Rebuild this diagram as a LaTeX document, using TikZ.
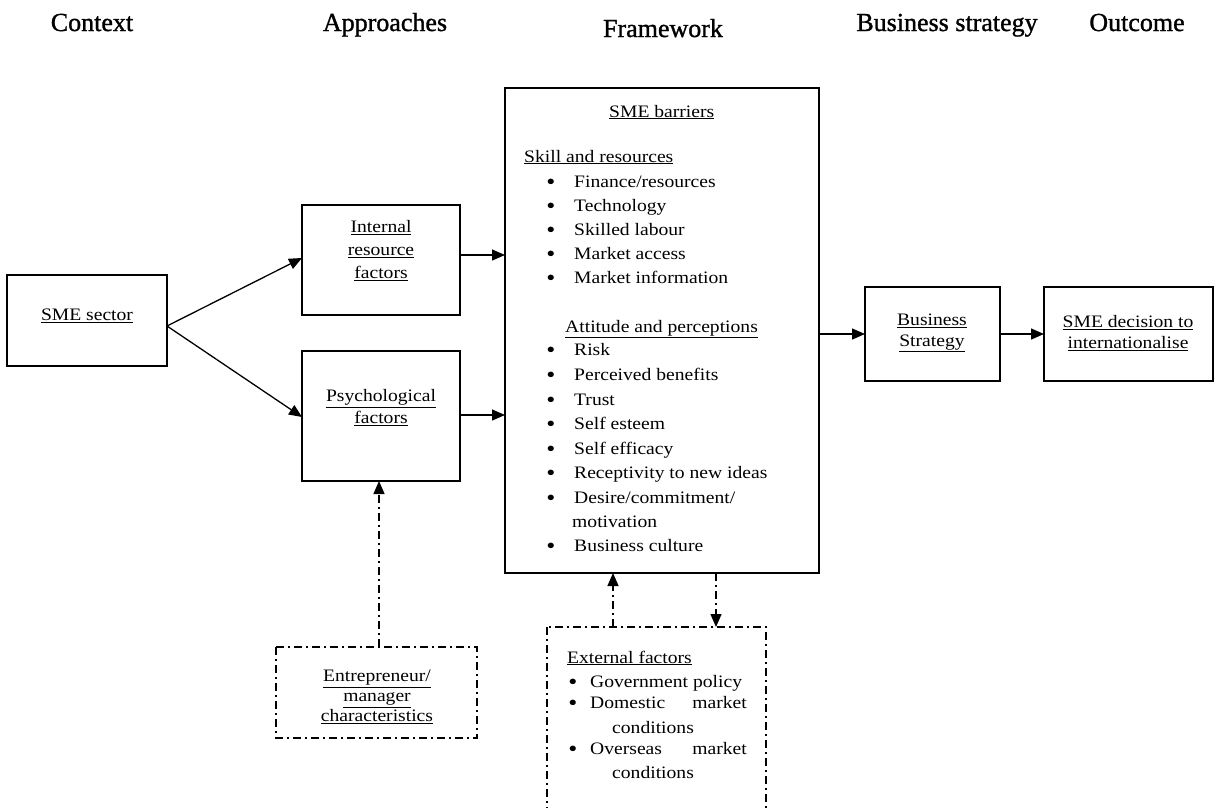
\documentclass[tikz,border=0pt]{standalone}
\usepackage{fontspec}
\setmainfont{Liberation Serif}[FakeStretch=1.12]
\newfontfamily\headfont{Liberation Serif}[FakeBold=1.2]
\usetikzlibrary{arrows.meta}
\begin{document}
\begin{tikzpicture}[x=1pt,y=-1pt,
  box/.style={draw,line width=1.6pt},
  dbox/.style={draw,line width=1.3pt,dash pattern=on 8pt off 4pt on 2pt off 4pt},
  arr/.style={line width=1.3pt,-{Triangle[length=13pt,width=11pt]}},
  darr/.style={line width=1.3pt,dash pattern=on 8pt off 4pt on 2pt off 4pt,-{Triangle[length=13pt,width=11pt]}},
  txt/.style={font=\fontsize{17.5}{22}\selectfont,align=center,inner sep=0pt},
  lt/.style={font=\fontsize{17.5}{22}\selectfont,anchor=base west,inner sep=0pt},
  bul/.style={font=\fontsize{23}{23}\selectfont,anchor=base,inner sep=0pt},
  hd/.style={font=\headfont\fontsize{26}{30}\selectfont,anchor=base,inner sep=0pt}]
\useasboundingbox (0,0) rectangle (1231,807);
\clip (0,0) rectangle (1231,807);
% headers
\node[hd] (h1) at (92,31) {Context};
\node[hd] (h2) at (385,31) {Approaches};
\node[hd] (h3) at (663,37) {Framework};
\node[hd] (h4) at (947,31) {Business strategy};
\node[hd] (h5) at (1137,31) {Outcome};
% SME sector
\draw[box] (7,275) rectangle (167,366);
\node[txt] (sme) at (87,316) {\underline{SME sector}};
\coordinate (smeE) at (167,326);
% Internal resource factors
\draw[box] (302,205) rectangle (460,315);
\node[txt,font=\fontsize{17.5}{23}\selectfont] (irf) at (381,251) {\underline{Internal}\\\underline{resource}\\\underline{factors}};
\coordinate (irfW) at (302,258);
\coordinate (irfE) at (460,255);
% Psychological factors
\draw[box] (302,351) rectangle (460,481);
\node[txt] (psy) at (381,408) {\underline{Psychological}\\\underline{factors}};
\coordinate (psyW) at (302,417);
\coordinate (psyE) at (460,415);
\coordinate (psyS) at (379,481);
% main framework box
\draw[box] (505,88) rectangle (819,573);
\coordinate (mainW1) at (505,255);
\coordinate (mainW2) at (505,415);
\coordinate (mainE) at (819,334);
\coordinate (mainS1) at (613,573);
\coordinate (mainS2) at (716,573);
% business strategy
\draw[box] (865,287) rectangle (1000,381);
\node[txt,font=\fontsize{17.5}{21}\selectfont] (bs) at (932,333) {\underline{Business}\\\underline{Strategy}};
\coordinate (bsW) at (865,334);
\coordinate (bsE) at (1000,334);
% outcome
\draw[box] (1044,287) rectangle (1213,381);
\node[txt,font=\fontsize{17.5}{21}\selectfont] (dec) at (1128,333) {\underline{SME decision to}\\\underline{internationalise}};
\coordinate (decW) at (1044,334);
% main box content
\node[lt] (t0) at (609,117) {\underline{SME barriers}};
\node[lt] (t1) at (524,162) {\underline{Skill and resources}};
\foreach \y/\s [count=\i] in {187/Finance\slash resources,211/Technology,235/Skilled labour,259/Market access,283/Market information}{
  \node[bul] (sb\i) at (551,\y+2) {\textbullet};
  \node[lt] (st\i) at (574,\y) {\s};
}
\node[lt] (t2) at (565,332) {\underline{Attitude and perceptions}};
\foreach \y/\s [count=\i] in {355/Risk,380/Perceived benefits,405/Trust,429/Self esteem,454/Self efficacy,478/Receptivity to new ideas,503/Desire\slash commitment\slash,551/Business culture}{
  \node[bul] (ab\i) at (551,\y+2) {\textbullet};
  \node[lt] (at\i) at (574,\y) {\s};
}
\node[lt] (at9) at (572,527) {motivation};
% entrepreneur box
\draw[dbox] (276,647) rectangle (477,738);
\node[txt,font=\fontsize{17.5}{20}\selectfont] (ent) at (377,697) {\underline{Entrepreneur/}\\\underline{manager}\\\underline{characteristics}};
\coordinate (entN) at (379,647);
% external factors box
\draw[dbox] (547,627) rectangle (766,830);
\coordinate (extN1) at (613,627);
\coordinate (extN2) at (716,627);
\node[lt] (e0) at (567,663) {\underline{External factors}};
\node[bul] (eb1) at (573,689) {\textbullet};
\node[lt] (et1) at (590,687) {Government policy};
\node[bul] (eb2) at (573,710) {\textbullet};
\node[lt] (et2) at (590,708) {Domestic};
\node[lt,anchor=base east] (et2b) at (747,708) {market};
\node[lt] (et2c) at (612,733) {conditions};
\node[bul] (eb3) at (573,756) {\textbullet};
\node[lt] (et3) at (590,754) {Overseas};
\node[lt,anchor=base east] (et3b) at (747,754) {market};
\node[lt] (et3c) at (612,778) {conditions};
% connectors
\draw[arr] (smeE) -- (irfW);
\draw[arr] (smeE) -- (psyW);
\draw[arr] (irfE) -- (mainW1);
\draw[arr] (psyE) -- (mainW2);
\draw[arr] (mainE) -- (bsW);
\draw[arr] (bsE) -- (decW);
\draw[darr] (entN) -- (psyS);
\draw[darr] (extN1) -- (mainS1);
\draw[darr] (mainS2) -- (extN2);
\end{tikzpicture}
\end{document}
